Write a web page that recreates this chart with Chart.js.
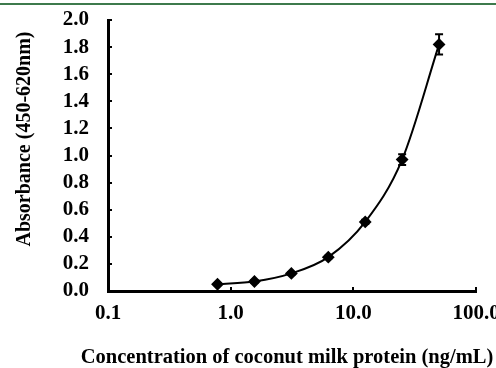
<!DOCTYPE html>
<html>
<head>
<meta charset="utf-8">
<script src="https://cdn.jsdelivr.net/npm/chart.js@4/dist/chart.umd.min.js"></script>
<style>
  html, body { margin: 0; padding: 0; background: #fff; overflow: hidden; }
  #wrap { position: relative; width: 496px; height: 368px; }
  #topline { position: absolute; left: 0; top: 3px; width: 496px; height: 2px; background: #3d7a4c; }
  canvas { display: block; }
</style>
</head>
<body>
<div id="wrap">
  <canvas id="chart-std" width="496" height="368"></canvas>
  <div id="topline"></div>
</div>
<script>
// Standard curve – coconut milk protein ELISA
const concentrations = [0.78125, 1.5625, 3.125, 6.25, 12.5, 25, 50];   // ng/mL
const absorbance     = [0.05, 0.07, 0.13, 0.25, 0.51, 0.97, 1.82];     // 450-620nm
const errors         = [0.005, 0.01, 0.01, 0.01, 0.015, 0.04, 0.075];
const xTickValues    = [0.1, 1, 10, 100];
const xTitle         = 'Concentration of coconut milk protein (ng/mL)';
const yTitle         = 'Absorbance (450-620nm)';

const FONT = '"Liberation Serif", "Times New Roman", serif';

// error bars drawn from the scales
const errorBars = {
  id: 'errorBars',
  afterDatasetsDraw(chart) {
    const { ctx, scales: { x, y } } = chart;
    ctx.save();
    ctx.strokeStyle = '#000';
    ctx.lineWidth = 2;
    concentrations.forEach((c, i) => {
      const px = x.getPixelForValue(c);
      const top = y.getPixelForValue(absorbance[i] + errors[i]);
      const bot = y.getPixelForValue(absorbance[i] - errors[i]);
      ctx.beginPath();
      ctx.moveTo(px, top); ctx.lineTo(px, bot);
      ctx.moveTo(px - 4, top); ctx.lineTo(px + 4, top);
      ctx.moveTo(px - 4, bot); ctx.lineTo(px + 4, bot);
      ctx.stroke();
    });
    ctx.restore();
  },
};

// axis titles: the originals run wider / sit off-centre compared with
// Chart.js' own titles (which get squeezed to the scale width), so draw them here
const axisTitles = {
  id: 'axisTitles',
  afterDraw(chart) {
    const { ctx } = chart;
    ctx.save();
    ctx.fillStyle = '#000';
    ctx.textAlign = 'center';
    ctx.textBaseline = 'middle';

    ctx.font = 'bold 20.5px ' + FONT;
    ctx.fillText(xTitle, 287, 358);

    ctx.translate(25, 139);
    ctx.rotate(-Math.PI / 2);
    ctx.font = 'bold 20px ' + FONT;
    ctx.fillText(yTitle, 0, 0);
    ctx.restore();
  },
};

function buildChart() {
  const ctx = document.getElementById('chart-std').getContext('2d');
  new Chart(ctx, {
    type: 'line',
    data: {
      datasets: [{
        data: concentrations.map((c, i) => ({ x: c, y: absorbance[i] })),
        borderColor: '#000',
        borderWidth: 2,
        backgroundColor: '#000',
        pointStyle: 'rectRot',
        pointRadius: 5,
        cubicInterpolationMode: 'monotone',
      }],
    },
    options: {
      responsive: false,
      animation: false,
      devicePixelRatio: 1,
      layout: { padding: { top: 20, right: 20, left: 0, bottom: 0 } },
      plugins: { legend: { display: false }, tooltip: { enabled: false } },
      scales: {
        x: {
          type: 'logarithmic',
          min: 0.1,
          max: 100,
          afterBuildTicks: s => { s.ticks = xTickValues.map(v => ({ value: v })); },
          afterFit: s => { s.height = 77; s.paddingRight = 0; s.paddingLeft = 0; },
          border: { display: true, color: '#000', width: 3 },
          grid: { drawOnChartArea: false, drawTicks: true, tickLength: -4, color: '#000', lineWidth: 2 },
          ticks: {
            autoSkip: false, maxRotation: 0, padding: 14, color: '#000',
            font: { family: FONT, size: 21, weight: 'bold' },
            callback: v => Number(v).toFixed(1),
          },
        },
        y: {
          min: 0,
          max: 2,
          afterFit: s => { s.width = 108; s.paddingTop = 0; s.paddingBottom = 0; },
          border: { display: true, color: '#000', width: 3 },
          grid: { drawOnChartArea: false, drawTicks: true, tickLength: -4, color: '#000', lineWidth: 2 },
          ticks: {
            autoSkip: false, stepSize: 0.2, padding: 23, color: '#000',
            font: { family: FONT, size: 21, weight: 'bold' },
            callback: v => Number(v).toFixed(1),
          },
        },
      },
    },
    plugins: [errorBars, axisTitles],
  });
}

document.addEventListener('DOMContentLoaded', buildChart);
</script>
</body>
</html>
